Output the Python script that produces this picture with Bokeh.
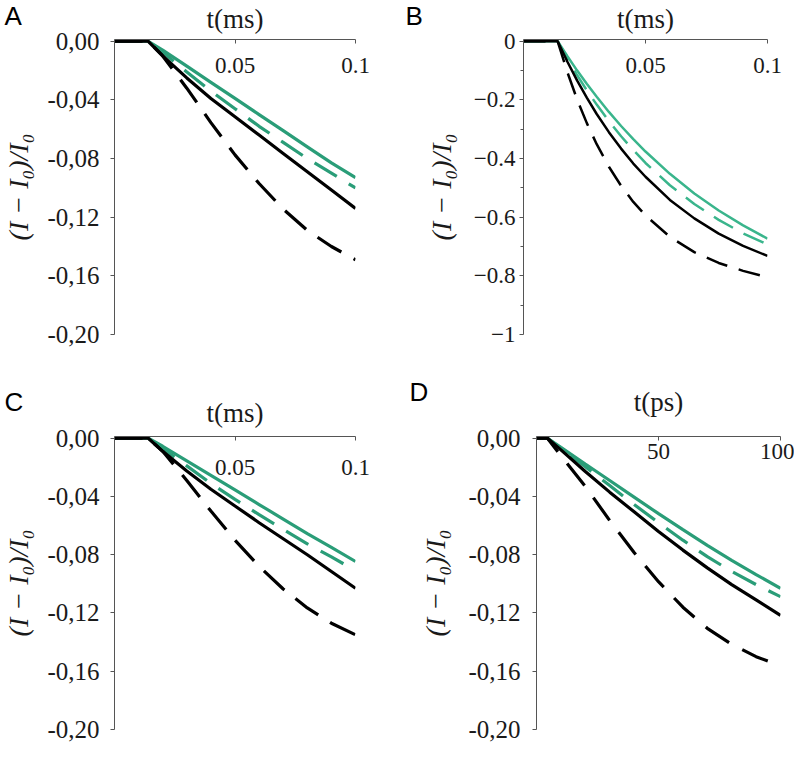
import math
from bokeh.plotting import figure
from bokeh.models import Range1d, LinearAxis, FixedTicker
from bokeh.layouts import column, row
from bokeh.embed import file_html
from bokeh.resources import INLINE

# ---------------- data ----------------
T_A = [0, 0.014, 0.02, 0.03, 0.04, 0.05, 0.06, 0.07, 0.08, 0.09, 0.1]
A_GREEN_SOLID = [0, 0, -0.006, -0.017, -0.028, -0.039, -0.050, -0.061, -0.072, -0.083, -0.093]
A_GREEN_DASH = [0, 0, -0.0075, -0.021, -0.034, -0.046, -0.058, -0.069, -0.080, -0.090, -0.100]
A_BLACK_SOLID = [0, 0, -0.010, -0.025, -0.039, -0.0515, -0.064, -0.0765, -0.089, -0.1015, -0.114]
A_BLACK_DASH = [0, 0, -0.010, -0.032, -0.0555, -0.0775, -0.097, -0.1145, -0.129, -0.140, -0.149]

T_B = [0, 0.014, 0.018, 0.022, 0.026, 0.03, 0.035, 0.04, 0.045, 0.05, 0.06, 0.07, 0.08, 0.09, 0.1]
B_GREEN_SOLID = [0, 0, -0.051, -0.100, -0.146, -0.189, -0.241, -0.289, -0.334, -0.376, -0.452, -0.519, -0.577, -0.628, -0.673]
B_GREEN_DASH = [0, 0, -0.060, -0.116, -0.168, -0.216, -0.272, -0.324, -0.371, -0.415, -0.491, -0.555, -0.609, -0.655, -0.693]
B_BLACK_SOLID = [0, 0, -0.070, -0.134, -0.193, -0.248, -0.310, -0.366, -0.417, -0.462, -0.541, -0.604, -0.656, -0.698, -0.732]
B_BLACK_DASH = [0, 0, -0.106, -0.199, -0.280, -0.351, -0.428, -0.493, -0.548, -0.594, -0.667, -0.719, -0.756, -0.783, -0.805]

T_C = [0, 0.014, 0.02, 0.03, 0.04, 0.05, 0.06, 0.07, 0.08, 0.09, 0.1]
C_GREEN_SOLID = [0, 0, -0.0055, -0.0155, -0.0255, -0.0355, -0.0455, -0.0555, -0.0655, -0.075, -0.0846]
C_GREEN_DASH = [0, 0, -0.007, -0.019, -0.031, -0.042, -0.0525, -0.0625, -0.0725, -0.0815, -0.0909]
C_BLACK_SOLID = [0, 0, -0.009, -0.0225, -0.035, -0.0465, -0.058, -0.069, -0.080, -0.0915, -0.103]
C_BLACK_DASH = [0, 0, -0.009, -0.029, -0.050, -0.070, -0.088, -0.1035, -0.1165, -0.127, -0.135]

T_D = [0, 4.5, 10, 20, 30, 40, 50, 60, 70, 80, 90, 100]
D_GREEN_SOLID = [0, 0, -0.0063, -0.0177, -0.029, -0.0404, -0.0518, -0.0628, -0.0735, -0.0838, -0.0936, -0.1031]
D_GREEN_DASH = [0, 0, -0.007, -0.0195, -0.0325, -0.0455, -0.058, -0.070, -0.0813, -0.0915, -0.1005, -0.1088]
D_BLACK_SOLID = [0, 0, -0.008, -0.0228, -0.037, -0.0505, -0.064, -0.0768, -0.089, -0.1005, -0.111, -0.1216]
D_BLACK_DASH = [0, 0, -0.012, -0.033, -0.0565, -0.0785, -0.0985, -0.1160, -0.1305, -0.1415, -0.150, -0.1563]

X_TICKS_MS = [0.05, 0.1]
X_LABELS_MS = ["0.05", "0.1"]
X_TICKS_PS = [50, 100]
X_LABELS_PS = ["50", "100"]
Y_TICKS_COMMA = [0, -0.04, -0.08, -0.12, -0.16, -0.2]
Y_LABELS_COMMA = ["0,00", "-0,04", "-0,08", "-0,12", "-0,16", "-0,20"]
Y_TICKS_B = [0, -0.2, -0.4, -0.6, -0.8, -1]
Y_LABELS_B = ["0", "\u22120.2", "\u22120.4", "\u22120.6", "\u22120.8", "\u22121"]
Y_MINOR_B = [-0.1, -0.3, -0.5, -0.7, -0.9]

PANEL_LETTERS = ["A", "B", "C", "D"]
X_TITLE_MS = "t(ms)"
X_TITLE_PS = "t(ps)"
Y_TITLE = "(I \u2212 I\u2080)/I\u2080"

SERIF = "Liberation Serif"
SANS = "Liberation Sans"
TXT = "#1a1a1a"
AXC = "#555555"


def make_panel(cfg, t, series, xticks, xlabels, yticks, ylabels, yminor, letter, xtitle):
    p = figure(width=cfg["w"], height=cfg["h"], output_backend="svg", toolbar_location=None,
               x_range=Range1d(0, cfg["xmax"]), y_range=Range1d(cfg["ymin"], cfg["ytop"]),
               x_axis_location=None, y_axis_location=None,
               min_border_left=cfg["bl"], min_border_right=cfg["br"],
               min_border_top=cfg["bt"], min_border_bottom=cfg["bb"])
    p.outline_line_color = None
    p.xgrid.grid_line_color = None
    p.ygrid.grid_line_color = None

    yax = LinearAxis(ticker=FixedTicker(ticks=yticks, minor_ticks=yminor),
                     major_label_overrides={v: s for v, s in zip(yticks, ylabels)})
    yax.axis_line_color = AXC
    yax.major_tick_line_color = AXC
    yax.minor_tick_line_color = AXC
    yax.major_tick_in = 0
    yax.major_tick_out = 4
    yax.minor_tick_in = 0
    yax.minor_tick_out = 3
    yax.major_label_standoff = cfg["ystand"]
    yax.major_label_text_font = SERIF
    yax.major_label_text_font_size = cfg["yfs"]
    yax.major_label_text_color = TXT
    yax.axis_label = Y_TITLE
    yax.axis_label_text_font = SERIF
    yax.axis_label_text_font_style = "italic"
    yax.axis_label_text_font_size = "28px"
    yax.axis_label_text_color = TXT
    yax.axis_label_standoff = cfg["yals"]
    p.add_layout(yax, "left")

    xax = LinearAxis(ticker=FixedTicker(ticks=xticks, minor_ticks=[]),
                     major_label_overrides={v: s for v, s in zip(xticks, xlabels)})
    xax.axis_line_color = AXC
    xax.major_tick_line_color = AXC
    xax.major_tick_in = 4
    xax.major_tick_out = 0
    xax.minor_tick_out = 0
    xax.major_label_text_font = SERIF
    xax.major_label_text_font_size = "23px"
    xax.major_label_text_color = TXT
    xax.major_label_standoff = cfg["xstand"]
    xax.axis_label = xtitle
    xax.axis_label_text_font = SERIF
    xax.axis_label_text_font_style = "normal"
    xax.axis_label_text_font_size = "27px"
    xax.axis_label_text_color = TXT
    xax.axis_label_standoff = cfg["xals"]
    p.add_layout(xax, "above")

    p.title.text = letter
    p.title.align = "left"
    p.title.offset = cfg["toff"]
    p.title.standoff = cfg["tstand"]
    p.title.text_font = SANS
    p.title.text_font_style = "normal"
    p.title.text_font_size = "26px"
    p.title.text_color = "black"

    lw = cfg["lw"]
    gs, gd, bs, bd = series
    p.line(t, gs, line_color=cfg["green"], line_width=lw)
    p.line(t, gd, line_color=cfg["green"], line_width=lw, line_dash=cfg["gdash"])
    p.line(t, bd, line_color="black", line_width=lw, line_dash=cfg["bdash"])
    p.line(t, bs, line_color="black", line_width=lw)
    return p


GREEN = "#2a9d78"
GREEN_B = "#3ab58c"

cfgA = dict(w=380, h=348, xmax=0.1, ymin=-0.2, ytop=0.0012, bl=110, br=25, bt=37, bb=14,
            ystand=11, yfs="25px", yals=10, xstand=-33, xals=21, toff=-110, tstand=-60,
            lw=3.2, green=GREEN, gdash="26 14", bdash="28 14")
cfgB = dict(w=414, h=348, xmax=0.1, ymin=-1.0, ytop=0.006, bl=143, br=27, bt=38, bb=12,
            ystand=4, yfs="23px", yals=14, xstand=-33, xals=21, toff=-118, tstand=-60,
            lw=2.5, green=GREEN_B, gdash="22 12", bdash="22 12")
cfgC = dict(w=380, h=394, xmax=0.1, ymin=-0.2, ytop=0.0012, bl=110, br=25, bt=88, bb=12,
            ystand=11, yfs="25px", yals=10, xstand=-38, xals=29, toff=-110, tstand=-45,
            lw=3.2, green=GREEN, gdash="26 14", bdash="28 14")
cfgD = dict(w=414, h=394, xmax=100, ymin=-0.2, ytop=0.0012, bl=156, br=14, bt=85, bb=13,
            ystand=12, yfs="25px", yals=14, xstand=-22, xals=24, toff=-127, tstand=-47,
            lw=3.2, green=GREEN, gdash="26 14", bdash="28 15")

pA = make_panel(cfgA, T_A, (A_GREEN_SOLID, A_GREEN_DASH, A_BLACK_SOLID, A_BLACK_DASH),
                X_TICKS_MS, X_LABELS_MS, Y_TICKS_COMMA, Y_LABELS_COMMA, [], PANEL_LETTERS[0], X_TITLE_MS)
pB = make_panel(cfgB, T_B, (B_GREEN_SOLID, B_GREEN_DASH, B_BLACK_SOLID, B_BLACK_DASH),
                X_TICKS_MS, X_LABELS_MS, Y_TICKS_B, Y_LABELS_B, Y_MINOR_B, PANEL_LETTERS[1], X_TITLE_MS)
pC = make_panel(cfgC, T_C, (C_GREEN_SOLID, C_GREEN_DASH, C_BLACK_SOLID, C_BLACK_DASH),
                X_TICKS_MS, X_LABELS_MS, Y_TICKS_COMMA, Y_LABELS_COMMA, [], PANEL_LETTERS[2], X_TITLE_MS)
pD = make_panel(cfgD, T_D, (D_GREEN_SOLID, D_GREEN_DASH, D_BLACK_SOLID, D_BLACK_DASH),
                X_TICKS_PS, X_LABELS_PS, Y_TICKS_COMMA, Y_LABELS_COMMA, [], PANEL_LETTERS[3], X_TITLE_PS)

layout = column(row(pA, pB), row(pC, pD))
open("out.html", "w").write(file_html(layout, INLINE))
